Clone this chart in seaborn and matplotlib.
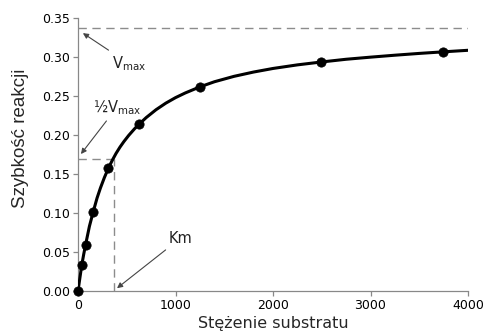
import matplotlib
matplotlib.use("Agg")
import matplotlib.pyplot as plt
import seaborn as sns
import pandas as pd

# measured points (substrate concentration, reaction rate)
substrate = [0, 39, 78, 156, 312, 624, 1248, 2496, 3744]
rate = [0.0, 0.034, 0.060, 0.102, 0.158, 0.214, 0.262, 0.294, 0.307]

# fitted curve
curve_x = [0, 10, 20, 39, 58, 78, 117, 156, 195, 230, 270, 312, 350, 390,
           430, 470, 520, 580, 624, 700, 800, 900, 1000, 1100, 1248, 1400,
           1600, 1800, 2000, 2250, 2496, 2750, 3000, 3250, 3500, 3744, 4000]
curve_y = [0.0, 0.0092, 0.0179, 0.034, 0.0472, 0.060, 0.0834, 0.102,
           0.1195, 0.1325, 0.1457, 0.158, 0.1676, 0.1768, 0.1848, 0.1919,
           0.1999, 0.2084, 0.214, 0.2228, 0.2328, 0.2412, 0.2483, 0.2543,
           0.262, 0.2687, 0.2756, 0.2811, 0.2857, 0.2903, 0.294, 0.2975,
           0.3002, 0.3027, 0.3050, 0.307, 0.309]

vmax = 0.337
half_vmax = 0.17
km = 372

x_ticks = [0, 1000, 2000, 3000, 4000]
y_ticks = [0.0, 0.05, 0.10, 0.15, 0.20, 0.25, 0.30, 0.35]

sns.set_style("ticks")
plt.rcParams['font.family'] = ['DejaVu Sans']

points = pd.DataFrame({"S": substrate, "v": rate})
curve = pd.DataFrame({"S": curve_x, "v": curve_y})

fig = plt.figure(figsize=(4.87, 3.36), dpi=100)
ax = fig.add_axes([0.1602, 0.133, 0.8008, 0.8125])

# dashed guide lines
dash_kw = dict(color="#8c8c8c", lw=1.0, linestyles=(0, (6, 4)), zorder=1)
ax.hlines(vmax, 0, 4000, **dash_kw)
ax.hlines(half_vmax, 0, km, **dash_kw)
ax.vlines(km, 0, half_vmax, **dash_kw)

sns.lineplot(data=curve, x="S", y="v", color="black", lw=2.2, ax=ax,
             sort=False, zorder=3)
sns.scatterplot(data=points, x="S", y="v", color="black", s=45, ax=ax,
                edgecolor="black", linewidth=0.5, zorder=4, clip_on=False)

ax.set_xlim(0, 4000)
ax.set_ylim(0, 0.35)
ax.set_xticks(x_ticks)
ax.set_yticks(y_ticks)
ax.set_yticklabels([f"{t:.2f}" for t in y_ticks])
ax.tick_params(labelsize=9, length=3.5, width=0.9, color="#888888",
               labelcolor="black", pad=2)
sns.despine(ax=ax)
for side in ["left", "bottom"]:
    ax.spines[side].set_color("#888888")
    ax.spines[side].set_linewidth(0.9)

ax.set_xlabel("Stężenie substratu", fontsize=11.5, labelpad=3)
ax.set_ylabel("Szybkość reakcji", fontsize=13.5, family="Liberation Sans")
ax.yaxis.set_label_coords(-0.125, 0.56)

arrow = dict(arrowstyle="-|>", color="#444444", lw=0.8, mutation_scale=8,
             shrinkA=1, shrinkB=0)
ax.annotate(r"V$_{\rm max}$", xy=(50, 0.331), xytext=(520, 0.292),
            ha="center", va="center", fontsize=10.5, color="#222222",
            arrowprops=arrow)
ax.annotate(r"½V$_{\rm max}$", xy=(30, 0.176), xytext=(400, 0.236),
            ha="center", va="center", fontsize=10.5, color="#222222",
            arrowprops=arrow)
ax.annotate("Km", xy=(400, 0.004), xytext=(1050, 0.068),
            ha="center", va="center", fontsize=10.5, color="#222222",
            arrowprops=arrow)

fig.savefig("out.png", dpi=100)
